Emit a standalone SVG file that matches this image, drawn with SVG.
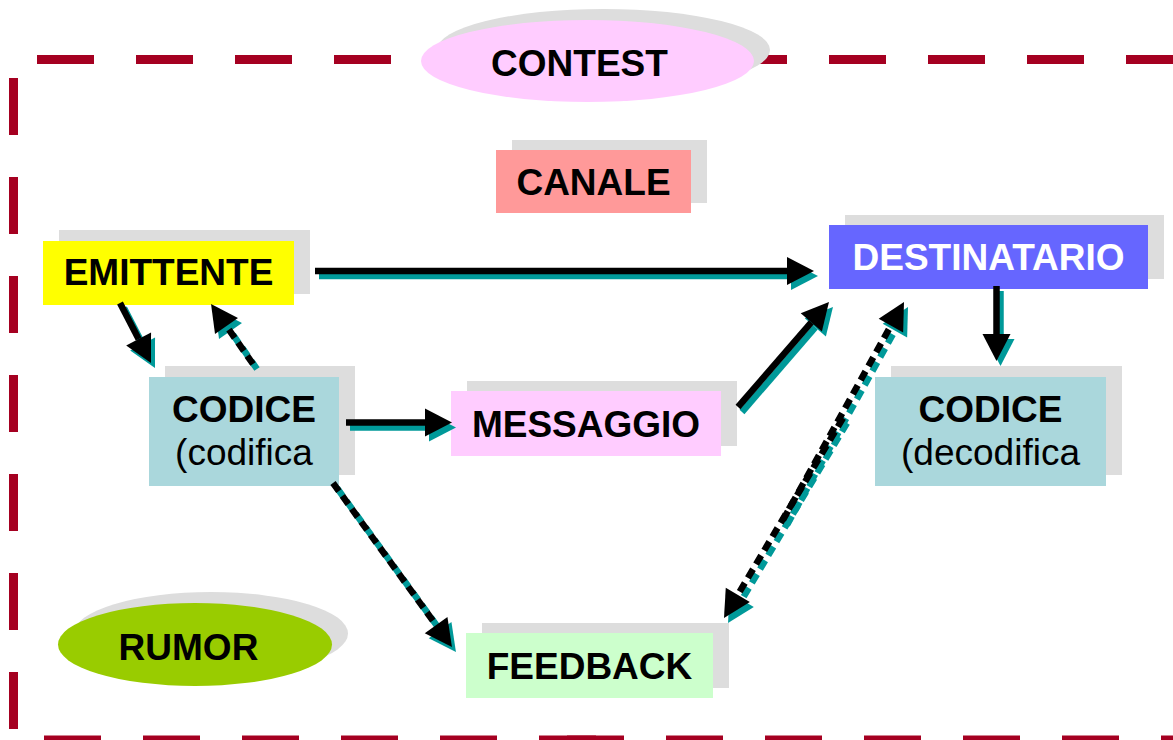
<svg xmlns="http://www.w3.org/2000/svg" width="1173" height="740" viewBox="0 0 1173 740">
<style>
.b{stroke:#A50021;stroke-width:9;stroke-dasharray:57 42;fill:none}
.sh{fill:#DDDDDD}
.t{font-family:"Liberation Sans",Arial,sans-serif;font-size:37px;font-weight:bold;fill:#000;text-anchor:middle}
.r{font-weight:normal}
.ab{stroke:#000;stroke-width:6.5;fill:none;marker-end:url(#hb)}
.at{stroke:#009999;stroke-width:6.5;fill:none;marker-end:url(#ht)}
.d{stroke-dasharray:10 6}
</style>
<defs>
<marker id="hb" markerUnits="userSpaceOnUse" markerWidth="30" markerHeight="30" refX="0" refY="14" orient="auto" overflow="visible"><path d="M0,0 L27,14 L0,28 Z" fill="#000"/></marker>
<marker id="ht" markerUnits="userSpaceOnUse" markerWidth="30" markerHeight="30" refX="0" refY="14" orient="auto" overflow="visible"><path d="M0,0 L27,14 L0,28 Z" fill="#009999"/></marker>
</defs>
<rect width="1173" height="740" fill="#fff"/>
<g id="border">
<line class="b" x1="37" y1="59.5" x2="1173" y2="59.5"/>
<line class="b" x1="13.5" y1="78" x2="13.5" y2="740"/>
<line class="b" x1="44" y1="740" x2="624" y2="740"/>
<line class="b" x1="567" y1="740" x2="1173" y2="740"/>
</g>
<g id="contest">
<ellipse class="sh" cx="603.5" cy="50" rx="166.5" ry="41"/>
<ellipse cx="587.5" cy="61" rx="166.5" ry="41" fill="#FFCCFF"/>
<text class="t" x="579.5" y="76">CONTEST</text>
</g>
<g id="canale">
<rect class="sh" x="512" y="140" width="195" height="63"/>
<rect x="496" y="150" width="195" height="63" fill="#FF9999"/>
<text class="t" x="593.5" y="195">CANALE</text>
</g>
<g id="emittente">
<rect class="sh" x="59" y="230" width="251" height="64"/>
<rect x="43" y="241" width="251" height="64" fill="#FFFF00"/>
<text class="t" x="168.5" y="285">EMITTENTE</text>
</g>
<g id="destinatario">
<rect class="sh" x="845" y="215" width="319" height="64"/>
<rect x="829" y="225" width="319" height="64" fill="#6666FF"/>
<text class="t" x="988.5" y="270" style="fill:#fff">DESTINATARIO</text>
</g>
<g id="codice-codifica">
<rect class="sh" x="165" y="366" width="190" height="109"/>
<rect x="149" y="377" width="190" height="109" fill="#AAD7DC"/>
<text class="t" x="244" y="422">CODICE</text>
<text class="t r" x="244" y="465">(codifica</text>
</g>
<g id="messaggio">
<rect class="sh" x="467" y="381" width="270" height="65"/>
<rect x="451" y="391" width="270" height="65" fill="#FFCCFF"/>
<text class="t" x="586" y="437">MESSAGGIO</text>
</g>
<g id="codice-decodifica">
<rect class="sh" x="891" y="366" width="231" height="109"/>
<rect x="875" y="377" width="231" height="109" fill="#AAD7DC"/>
<text class="t" x="990.5" y="422">CODICE</text>
<text class="t r" x="990.5" y="465">(decodifica</text>
</g>
<g id="feedback">
<rect class="sh" x="482" y="623" width="247" height="65"/>
<rect x="466" y="633" width="247" height="65" fill="#CCFFCC"/>
<text class="t" x="589.5" y="679">FEEDBACK</text>
</g>
<g id="rumor">
<ellipse class="sh" cx="211" cy="633.5" rx="137" ry="41.5"/>
<ellipse cx="195" cy="644.5" rx="137" ry="41.5" fill="#99CC00"/>
<text class="t" x="188.5" y="660">RUMOR</text>
</g>
<g id="connectors">
<g transform="translate(4,5)">
<line class="at" x1="315" y1="271" x2="787" y2="271"/>
<line class="at" x1="120" y1="303" x2="138.6" y2="339"/>
<line class="at d" x1="253" y1="364" x2="226.5" y2="326.1"/>
<line class="at" x1="346" y1="422.5" x2="425" y2="422.5"/>
<line class="at" x1="738" y1="407" x2="811.3" y2="322.4"/>
<line class="at d" x1="783" y1="520" x2="890.9" y2="325.6"/>
<line class="at d" x1="843" y1="418" x2="737.8" y2="594.8"/>
<line class="at d" x1="333" y1="483" x2="436.1" y2="625.1"/>
<line class="at" x1="996.5" y1="286" x2="996.5" y2="334"/>
</g>
<line class="ab" x1="315" y1="271" x2="787" y2="271"/>
<line class="ab" x1="120" y1="303" x2="138.6" y2="339"/>
<line class="ab d" x1="253" y1="364" x2="226.5" y2="326.1"/>
<line class="ab" x1="346" y1="422.5" x2="425" y2="422.5"/>
<line class="ab" x1="738" y1="407" x2="811.3" y2="322.4"/>
<line class="ab d" x1="783" y1="520" x2="890.9" y2="325.6"/>
<line class="ab d" x1="843" y1="418" x2="737.8" y2="594.8"/>
<line class="ab d" x1="333" y1="483" x2="436.1" y2="625.1"/>
<line class="ab" x1="996.5" y1="286" x2="996.5" y2="334"/>
</g>
</svg>
